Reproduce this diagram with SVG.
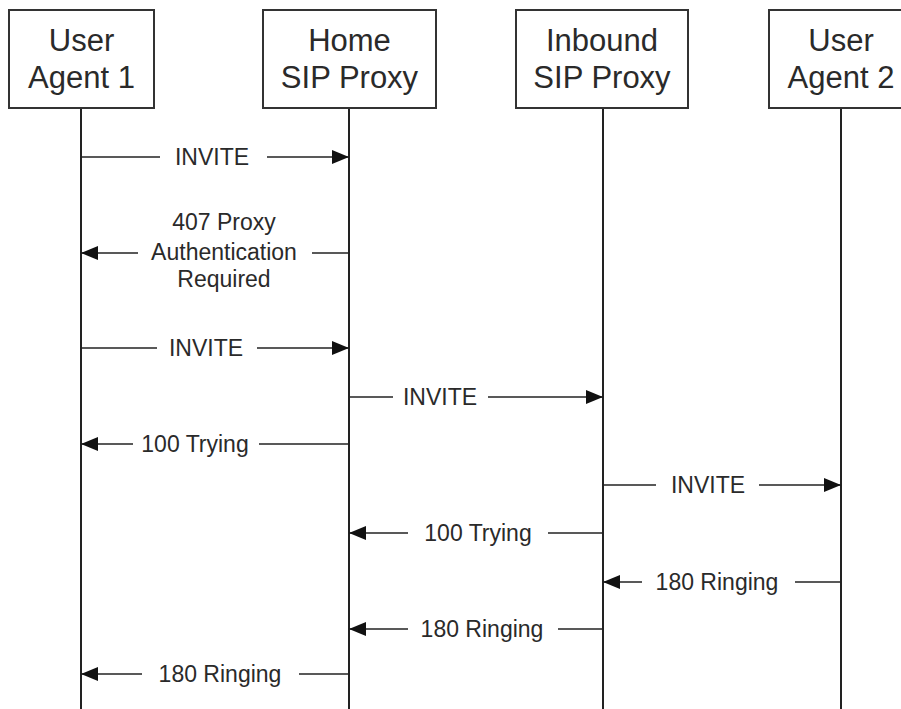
<svg xmlns="http://www.w3.org/2000/svg" width="901" height="709" viewBox="0 0 901 709">
<style>
.box{fill:#fff;stroke:#333;stroke-width:2}
.life{stroke:#222;stroke-width:2}
.msg{stroke:#222;stroke-width:1.6;fill:none}
.nt{font-family:"Liberation Sans",Arial,sans-serif;font-size:31px;fill:#2a2a2a;text-anchor:middle}
.lb{font-family:"Liberation Sans",Arial,sans-serif;font-size:23px;fill:#2a2a2a;text-anchor:middle}
</style>
<defs>
<marker id="ah" markerUnits="userSpaceOnUse" markerWidth="18" markerHeight="16" viewBox="0 0 18 16" refX="17" refY="8" orient="auto">
<path d="M0,1 L17,8 L0,15 Z" fill="#111"/>
</marker>
</defs>
<rect width="901" height="709" fill="#fff"/>
<g id="lifelines">
<line class="life" x1="81" y1="108" x2="81" y2="709"/>
<line class="life" x1="349" y1="108" x2="349" y2="709"/>
<line class="life" x1="603" y1="108" x2="603" y2="709"/>
<line class="life" x1="841" y1="108" x2="841" y2="709"/>
</g>
<g id="ua1"><rect class="box" x="9" y="10" width="145" height="98"/><text class="nt" x="81.5" y="51">User</text><text class="nt" x="81.5" y="88">Agent 1</text></g>
<g id="home"><rect class="box" x="263" y="10" width="173" height="98"/><text class="nt" x="349.5" y="51">Home</text><text class="nt" x="349.5" y="88">SIP Proxy</text></g>
<g id="inbound"><rect class="box" x="516" y="10" width="172" height="98"/><text class="nt" x="602" y="51">Inbound</text><text class="nt" x="602" y="88">SIP Proxy</text></g>
<g id="ua2"><rect class="box" x="769" y="10" width="145" height="98"/><text class="nt" x="841" y="51">User</text><text class="nt" x="841" y="88">Agent 2</text></g>
<g id="connectors">
<line class="msg" x1="81" y1="157" x2="160" y2="157"/><line class="msg" x1="267" y1="157" x2="349" y2="157" marker-end="url(#ah)"/>
<line class="msg" x1="138" y1="253" x2="81" y2="253" marker-end="url(#ah)"/><line class="msg" x1="312" y1="253" x2="349" y2="253"/>
<line class="msg" x1="81" y1="348" x2="157" y2="348"/><line class="msg" x1="257" y1="348" x2="349" y2="348" marker-end="url(#ah)"/>
<line class="msg" x1="349" y1="397" x2="393" y2="397"/><line class="msg" x1="488" y1="397" x2="603" y2="397" marker-end="url(#ah)"/>
<line class="msg" x1="133" y1="444" x2="81" y2="444" marker-end="url(#ah)"/><line class="msg" x1="259" y1="444" x2="349" y2="444"/>
<line class="msg" x1="603" y1="485" x2="656" y2="485"/><line class="msg" x1="759" y1="485" x2="841" y2="485" marker-end="url(#ah)"/>
<line class="msg" x1="408" y1="533" x2="349" y2="533" marker-end="url(#ah)"/><line class="msg" x1="548" y1="533" x2="603" y2="533"/>
<line class="msg" x1="642" y1="582" x2="603" y2="582" marker-end="url(#ah)"/><line class="msg" x1="795" y1="582" x2="841" y2="582"/>
<line class="msg" x1="408" y1="629" x2="349" y2="629" marker-end="url(#ah)"/><line class="msg" x1="558" y1="629" x2="603" y2="629"/>
<line class="msg" x1="142" y1="674" x2="81" y2="674" marker-end="url(#ah)"/><line class="msg" x1="299" y1="674" x2="349" y2="674"/>
</g>
<g id="labels">
<text class="lb" x="212" y="165">INVITE</text>
<text class="lb" x="224" y="230">407 Proxy</text>
<text class="lb" x="224" y="260">Authentication</text>
<text class="lb" x="224" y="287">Required</text>
<text class="lb" x="206" y="356">INVITE</text>
<text class="lb" x="440" y="405">INVITE</text>
<text class="lb" x="195" y="452">100 Trying</text>
<text class="lb" x="708" y="493">INVITE</text>
<text class="lb" x="478" y="541">100 Trying</text>
<text class="lb" x="717" y="590">180 Ringing</text>
<text class="lb" x="482" y="637">180 Ringing</text>
<text class="lb" x="220" y="682">180 Ringing</text>
</g>
</svg>
